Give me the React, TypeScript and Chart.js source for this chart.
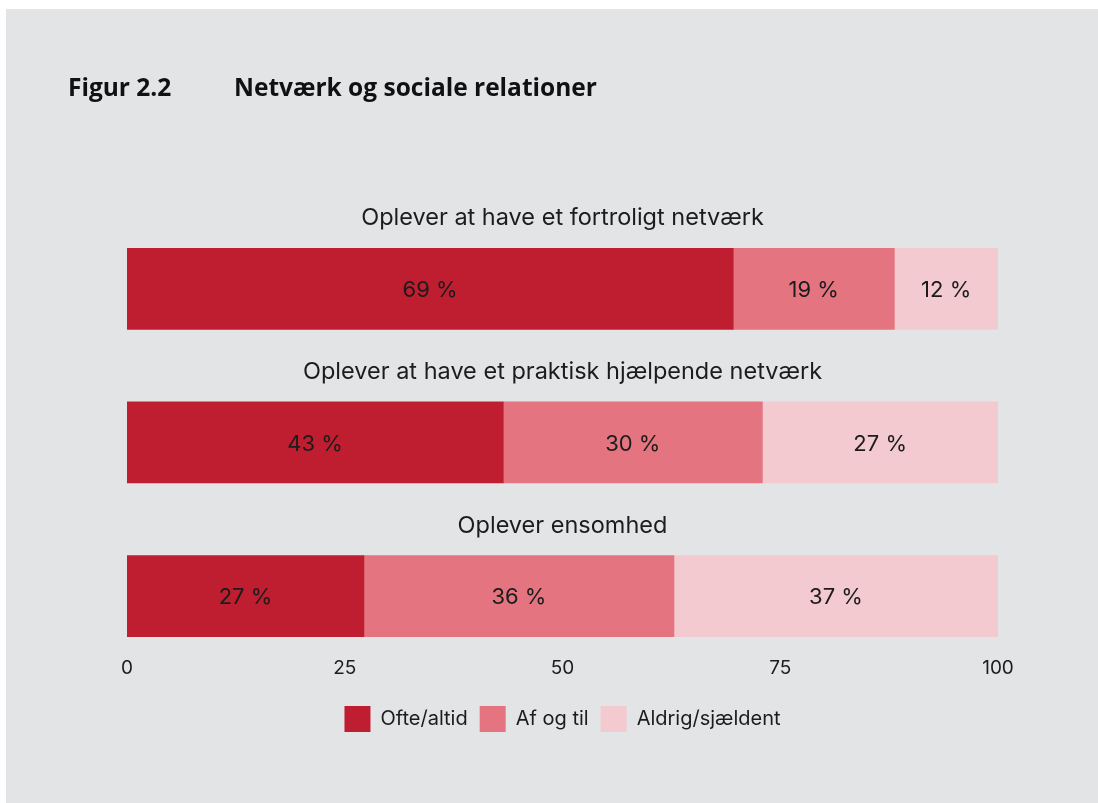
import React, { useEffect, useRef } from "react";
import { Chart, registerables } from "chart.js";

Chart.register(...registerables);

const categories = [
  "Oplever at have et fortroligt netværk",
  "Oplever at have et praktisk hjælpende netværk",
  "Oplever ensomhed",
];
const seriesNames = ["Ofte/altid", "Af og til", "Aldrig/sjældent"];
const ofteAltid = [69.6, 43.2, 27.2];
const afOgTil = [18.5, 29.75, 35.6];
const aldrigSjaeldent = [11.9, 27.05, 37.2];
const ofteAltidLabels = ["69 %", "43 %", "27 %"];
const afOgTilLabels = ["19 %", "30 %", "36 %"];
const aldrigSjaeldentLabels = ["12 %", "27 %", "37 %"];
const xTicks = [0, 25, 50, 75, 100];
const figureNumber = "Figur 2.2";
const figureTitle = "Netværk og sociale relationer";

const colors = ["#be1e2f", "#e47580", "#f2cacf"];
const TEXT = "#1c1c1c";
const BG = "#e3e4e6";
const FONT = "Inter, 'Noto Sans', sans-serif";

const toPoints = (arr: number[]) => arr.map((v, i) => ({ x: v, y: i }));

const bgPlugin = {
  id: "bgPlugin",
  beforeDraw(chart: any) {
    const { ctx, width, height } = chart;
    ctx.save();
    ctx.fillStyle = "#ffffff";
    ctx.fillRect(0, 0, width, height);
    ctx.fillStyle = BG;
    ctx.fillRect(6, 9, width - 6, height - 9);
    ctx.restore();
  },
};

const titlePlugin = {
  id: "titlePlugin",
  afterDraw(chart: any) {
    const { ctx } = chart;
    ctx.save();
    ctx.fillStyle = "#111111";
    ctx.font = "bold 24.5px 'Open Sans', sans-serif";
    ctx.textBaseline = "alphabetic";
    ctx.textAlign = "left";
    ctx.fillText(figureNumber, 68, 96);
    ctx.fillText(figureTitle, 234, 96);
    ctx.restore();
  },
};

const categoryLabelPlugin = {
  id: "categoryLabelPlugin",
  afterDraw(chart: any) {
    const { ctx, chartArea, scales } = chart;
    const cx = (chartArea.left + chartArea.right) / 2;
    ctx.save();
    ctx.fillStyle = TEXT;
    ctx.font = `23.5px ${FONT}`;
    ctx.textAlign = "center";
    ctx.textBaseline = "alphabetic";
    categories.forEach((c, i) => {
      const y = scales.y.getPixelForValue(i);
      ctx.fillText(c, cx, y - 63.5);
    });
    ctx.restore();
  },
};

const labelSets = [ofteAltidLabels, afOgTilLabels, aldrigSjaeldentLabels];

const dataLabelPlugin = {
  id: "dataLabelPlugin",
  afterDatasetsDraw(chart: any) {
    const { ctx } = chart;
    ctx.save();
    ctx.fillStyle = TEXT;
    ctx.font = `22px ${FONT}`;
    ctx.textAlign = "center";
    ctx.textBaseline = "alphabetic";
    chart.data.datasets.forEach((_ds: any, di: number) => {
      const meta = chart.getDatasetMeta(di);
      meta.data.forEach((bar: any, i: number) => {
        const x = (bar.x + bar.base) / 2;
        ctx.fillText(labelSets[di][i], x, bar.y + 8.3);
      });
    });
    ctx.restore();
  },
};

export default function App() {
  const ref = useRef<HTMLCanvasElement | null>(null);
  useEffect(() => {
    document.body.style.margin = "0";
    const canvas = ref.current;
    if (!canvas) return;
    const chart = new Chart(canvas, {
      type: "bar",
      data: {
        datasets: [
          { label: seriesNames[0], data: toPoints(ofteAltid), backgroundColor: colors[0] },
          { label: seriesNames[1], data: toPoints(afOgTil), backgroundColor: colors[1] },
          { label: seriesNames[2], data: toPoints(aldrigSjaeldent), backgroundColor: colors[2] },
        ],
      },
      options: {
        indexAxis: "y",
        animation: false,
        responsive: true,
        maintainAspectRatio: false,
        datasets: { bar: { barThickness: 81, borderWidth: 0 } },
        layout: { padding: { left: 127, right: 100, top: 212, bottom: 61 } },
        scales: {
          x: {
            type: "linear",
            stacked: true,
            min: 0,
            max: 100,
            afterBuildTicks: (axis: any) => {
              axis.ticks = xTicks.map((v) => ({ value: v }));
            },
            afterFit: (axis: any) => {
              axis.height = 38.8;
            },
            grid: { display: false, drawTicks: false },
            border: { display: false },
            ticks: {
              color: TEXT,
              font: { family: FONT, size: 19 },
              padding: 1.5,
              maxRotation: 0,
              autoSkip: false,
            },
          },
          y: {
            type: "linear",
            stacked: true,
            reverse: true,
            offset: false,
            min: -0.5,
            max: 2.385,
            display: false,
            grid: { display: false },
          },
        },
        plugins: {
          legend: {
            position: "bottom",
            labels: {
              boxWidth: 26,
              boxHeight: 26,
              padding: 12,
              color: TEXT,
              font: { family: FONT, size: 20 },
            },
          },
          tooltip: { enabled: false },
          title: { display: false },
        },
      },
      plugins: [bgPlugin, titlePlugin, categoryLabelPlugin, dataLabelPlugin],
    } as any);
    return () => chart.destroy();
  }, []);
  return (
    <div style={{ width: "1098px", height: "803px", position: "relative" }}>
      <canvas ref={ref} style={{ display: "block" }} />
    </div>
  );
}
